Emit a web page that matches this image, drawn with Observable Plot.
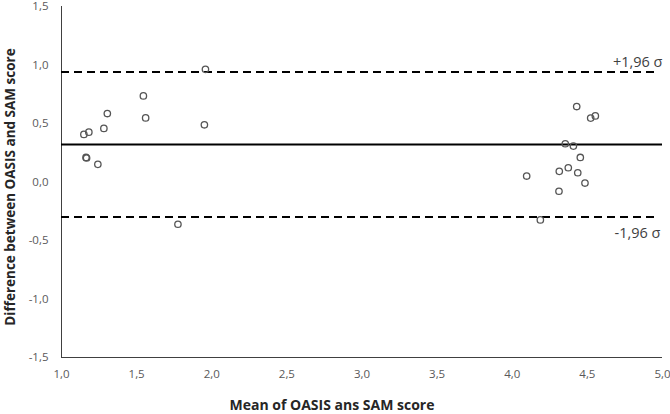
<!DOCTYPE html>
<html>
<head>
<meta charset="utf-8">
<script src="https://cdn.jsdelivr.net/npm/d3@7"></script>
<script src="https://cdn.jsdelivr.net/npm/@observablehq/plot@0.6"></script>
<style>
  html, body { margin: 0; padding: 0; background: #fff; }
  #chart { width: 670px; height: 414px; }
</style>
</head>
<body>
<div id="chart"></div>
<script>
const meanScore = [1.149, 1.182, 1.163, 1.167, 1.242, 1.282, 1.305, 1.545, 1.560, 1.958, 1.951, 1.775,
                   4.429, 4.522, 4.553, 4.353, 4.407, 4.453, 4.096, 4.313, 4.373, 4.436, 4.484, 4.311, 4.187];
const diffScore = [0.407, 0.426, 0.210, 0.205, 0.151, 0.458, 0.585, 0.736, 0.548, 0.963, 0.489, -0.361,
                   0.645, 0.546, 0.565, 0.327, 0.307, 0.210, 0.051, 0.091, 0.122, 0.079, -0.009, -0.079, -0.324];
const meanDiff = 0.32;
const upperLimit = 0.94;
const lowerLimit = -0.30;
const xTicks = [1, 1.5, 2, 2.5, 3, 3.5, 4, 4.5, 5];
const yTicks = [-1.5, -1, -0.5, 0, 0.5, 1, 1.5];
const limitLabels = ["+1,96 σ", "-1,96 σ"];
const xTitle = "Mean of OASIS ans SAM score";
const yTitle = "Difference between OASIS and SAM score";

const points = meanScore.map((m, i) => ({x: m, y: diffScore[i]}));
const fmt = v => d3.format(".1f")(v).replace(".", ",").replace("−", "-");

const chart = Plot.plot({
  width: 670,
  height: 414,
  marginLeft: 61,
  marginRight: 8,
  marginTop: 6,
  marginBottom: 57,
  style: {fontFamily: "'Open Sans', sans-serif", fontSize: "11.5px", color: "#595959", background: "#fff"},
  x: {domain: [1, 5]},
  y: {domain: [-1.5, 1.5]},
  marks: [
    Plot.axisX({ticks: xTicks, tickFormat: fmt, tickSize: 0, tickPadding: 12, label: null, fill: "#595959"}),
    Plot.axisY({ticks: yTicks, tickFormat: fmt, tickSize: 0, tickPadding: 13, label: null, fill: "#595959"}),
    Plot.ruleX([1], {stroke: "#404040", strokeWidth: 1}),
    Plot.ruleY([-1.5], {stroke: "#404040", strokeWidth: 1}),
    Plot.ruleY([meanDiff], {stroke: "#000", strokeWidth: 2}),
    Plot.ruleY([upperLimit, lowerLimit], {stroke: "#000", strokeWidth: 2, strokeDasharray: "8,5", x1: 1, x2: 4.98}),
    Plot.dot(points, {x: "x", y: "y", r: 3.2, stroke: "#555", strokeWidth: 1.3, fill: "none"}),
    Plot.text([limitLabels[0]], {x: 5, y: upperLimit, text: d => d, textAnchor: "end", dy: -10, fontSize: 14.5, fill: "#404040"}),
    Plot.text([limitLabels[1]], {x: 5, y: lowerLimit, text: d => d, textAnchor: "end", dy: 16, dx: -2, fontSize: 14.5, fill: "#404040"}),
    Plot.text([xTitle], {frameAnchor: "bottom", text: d => d, textAnchor: "middle", dy: 52, dx: -30, fontSize: 14, fontWeight: "bold", fill: "#262626"}),
    Plot.text([yTitle], {frameAnchor: "left", text: d => d, textAnchor: "middle", rotate: -90, dx: -51, dy: 5, fontSize: 13.5, fontWeight: "bold", fill: "#262626"})
  ]
});
document.getElementById("chart").appendChild(chart);
</script>
</body>
</html>
